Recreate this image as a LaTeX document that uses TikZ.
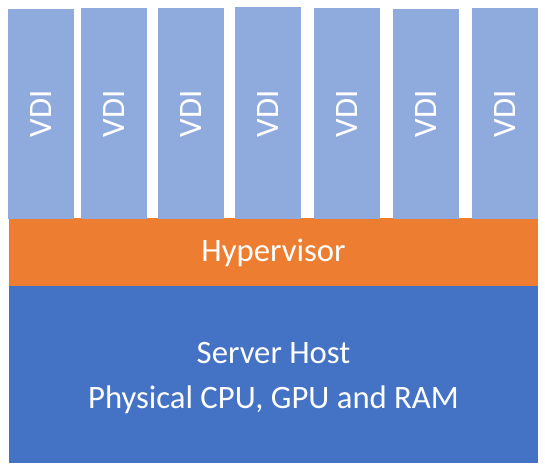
\documentclass[tikz,border=0pt]{standalone}
\usepackage{fontspec}
\setmainfont{Carlito}
\definecolor{vdiblue}{HTML}{8FAADC}
\definecolor{hvorange}{HTML}{ED7D31}
\definecolor{hostblue}{HTML}{4472C4}
\begin{document}
\begin{tikzpicture}[x=1pt,y=-1pt,
  vdibox/.style={fill=vdiblue,draw=none},
  lbl/.style={text=white,font=\fontsize{32.7}{39}\selectfont}]
\useasboundingbox (0,0) rectangle (545,469);
\fill[hostblue] (9,286) rectangle (538,463);
\fill[hvorange] (9,218) rectangle (538,286);
\foreach \n/\a/\t in {1/8/9,2/81/8,3/158/8,4/235/7,5/314/8,6/393/9,7/472/8}{
  \path[vdibox] (\a,\t) rectangle ({\a+66},219);
  \node[lbl,rotate=90,inner sep=0pt] (vdi\n) at ({\a+33},114) {VDI};
}
\node[lbl,inner sep=0pt] (hyp) at (273.5,252.5) {Hypervisor};
\node[lbl,inner sep=0pt,align=center,font=\fontsize{32.7}{45}\selectfont] (host) at (273.5,378) {Server Host\\Physical CPU, GPU and RAM};
\end{tikzpicture}
\end{document}
